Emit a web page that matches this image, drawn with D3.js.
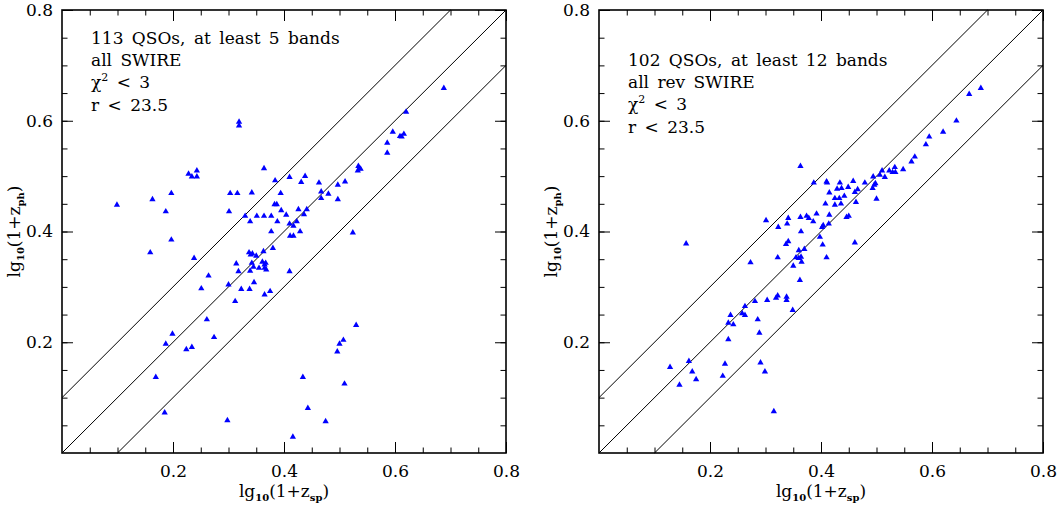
<!DOCTYPE html>
<html>
<head>
<meta charset="utf-8">
<script src="https://cdn.jsdelivr.net/npm/d3@7"></script>
<style>
  body { margin: 0; background: #fff; }
  text { font-family: "DejaVu Serif", serif; fill: #000; }
</style>
</head>
<body>
<svg id="chart" width="1058" height="508"></svg>
<script>
// left panel: 5 bands, all SWIRE
var leftZsp = [0.688,0.620,0.596,0.609,0.612,0.616,0.586,0.586,0.319,0.319,
  0.534,0.536,0.538,0.533,0.364,0.228,0.234,0.243,0.243,0.384,
  0.410,0.438,0.431,0.463,0.497,0.510,0.467,0.480,0.467,0.497,
  0.197,0.163,0.099,0.187,0.303,0.316,0.342,0.394,0.383,0.387,
  0.301,0.395,0.404,0.426,0.441,0.436,0.330,0.351,0.364,0.377,
  0.339,0.388,0.410,0.417,0.423,0.377,0.429,0.524,0.411,0.417,
  0.197,0.159,0.238,0.380,0.337,0.340,0.343,0.350,0.363,0.314,
  0.342,0.345,0.318,0.339,0.355,0.361,0.365,0.367,0.365,0.368,
  0.410,0.264,0.251,0.300,0.323,0.338,0.346,0.365,0.375,0.312,
  0.261,0.274,0.199,0.187,0.224,0.234,0.530,0.507,0.500,0.496,
  0.169,0.434,0.509,0.185,0.443,0.298,0.475,0.416];
var leftZph = [0.659,0.616,0.580,0.572,0.571,0.576,0.560,0.542,0.598,0.591,
  0.518,0.514,0.513,0.510,0.514,0.504,0.499,0.499,0.510,0.492,
  0.498,0.500,0.489,0.488,0.484,0.490,0.472,0.468,0.460,0.458,
  0.469,0.458,0.448,0.436,0.469,0.469,0.470,0.469,0.449,0.449,
  0.436,0.438,0.430,0.440,0.440,0.431,0.428,0.428,0.428,0.428,
  0.418,0.418,0.414,0.410,0.418,0.400,0.400,0.398,0.392,0.392,
  0.385,0.362,0.352,0.370,0.362,0.358,0.360,0.356,0.364,0.342,
  0.343,0.336,0.328,0.329,0.334,0.345,0.340,0.343,0.334,0.331,
  0.328,0.320,0.297,0.304,0.296,0.296,0.308,0.286,0.292,0.274,
  0.241,0.209,0.215,0.197,0.187,0.191,0.231,0.204,0.197,0.183,
  0.137,0.137,0.125,0.073,0.081,0.059,0.057,0.029];

// right panel: 12 bands, all rev SWIRE
var rightZsp = [0.688,0.667,0.644,0.620,0.595,0.589,0.569,0.563,0.548,0.533,
  0.529,0.534,0.523,0.510,0.506,0.515,0.494,0.498,0.496,0.493,
  0.500,0.479,0.458,0.466,0.461,0.463,0.449,0.434,0.437,0.429,
  0.410,0.411,0.387,0.363,0.415,0.442,0.425,0.433,0.408,0.425,
  0.436,0.392,0.415,0.446,0.450,0.374,0.378,0.363,0.386,0.341,
  0.339,0.301,0.323,0.364,0.404,0.402,0.414,0.398,0.341,0.337,
  0.403,0.461,0.157,0.360,0.370,0.322,0.355,0.360,0.364,0.365,
  0.410,0.273,0.350,0.362,0.319,0.322,0.338,0.338,0.303,0.281,
  0.263,0.349,0.237,0.258,0.263,0.286,0.233,0.242,0.289,0.233,
  0.128,0.162,0.168,0.145,0.175,0.227,0.223,0.291,0.299,0.315];
var rightZph = [0.659,0.648,0.600,0.580,0.571,0.557,0.535,0.526,0.512,0.516,
  0.507,0.507,0.510,0.510,0.502,0.498,0.499,0.487,0.484,0.478,
  0.459,0.488,0.491,0.476,0.471,0.453,0.480,0.488,0.478,0.477,
  0.490,0.488,0.488,0.518,0.470,0.464,0.460,0.460,0.450,0.448,
  0.450,0.432,0.430,0.426,0.428,0.428,0.424,0.426,0.418,0.424,
  0.414,0.420,0.408,0.400,0.411,0.408,0.414,0.390,0.382,0.377,
  0.376,0.380,0.378,0.366,0.368,0.353,0.353,0.352,0.354,0.345,
  0.353,0.344,0.338,0.312,0.280,0.284,0.282,0.276,0.276,0.274,
  0.265,0.258,0.249,0.252,0.249,0.241,0.235,0.232,0.217,0.205,
  0.155,0.166,0.147,0.123,0.133,0.161,0.139,0.163,0.147,0.075];

var tickLabels = [0.2, 0.4, 0.6, 0.8];
var minorTicks = d3.range(0.05, 0.8, 0.05);
var offsets = [0.1, 0, -0.1];

var leftNotes = ["113 QSOs, at least 5 bands", "all SWIRE", "chi", "r < 23.5"];
var rightNotes = ["102 QSOs, at least 12 bands", "all rev SWIRE", "chi", "r < 23.5"];

var svg = d3.select("#chart");

var panels = [
  { left: 62, right: 506, zsp: leftZsp, zph: leftZph, notes: leftNotes, noteX: 91, noteY: 44 },
  { left: 599, right: 1043, zsp: rightZsp, zph: rightZph, notes: rightNotes, noteX: 628, noteY: 66 }
];
var plotTop = 10, plotBottom = 453;

panels.forEach(function(p) {
  var x = d3.scaleLinear().domain([0, 0.8]).range([p.left, p.right]);
  var y = d3.scaleLinear().domain([0, 0.8]).range([plotBottom, plotTop]);
  var g = svg.append("g");

  // minor ticks, all four sides, inward
  var minor = [
    [d3.axisBottom(x), "translate(0," + plotBottom + ")"],
    [d3.axisTop(x), "translate(0," + plotTop + ")"],
    [d3.axisLeft(y), "translate(" + p.left + ",0)"],
    [d3.axisRight(y), "translate(" + p.right + ",0)"]
  ];
  minor.forEach(function(m) {
    var a = g.append("g").attr("transform", m[1])
      .call(m[0].tickValues(minorTicks).tickSize(-5.5).tickFormat(""));
    a.select(".domain").remove();
    a.selectAll("line").attr("stroke", "#000").attr("stroke-width", 1);
  });

  // major ticks with labels
  var xb = g.append("g").attr("transform", "translate(0," + plotBottom + ")")
    .call(d3.axisBottom(x).tickValues(tickLabels).tickSize(-11).tickPadding(12).tickFormat(d3.format(".1f")));
  var yl = g.append("g").attr("transform", "translate(" + p.left + ",0)")
    .call(d3.axisLeft(y).tickValues(tickLabels).tickSize(-11).tickPadding(9).tickFormat(d3.format(".1f")));
  var xt = g.append("g").attr("transform", "translate(0," + plotTop + ")")
    .call(d3.axisTop(x).tickValues(tickLabels).tickSize(-11).tickFormat(""));
  var yr = g.append("g").attr("transform", "translate(" + p.right + ",0)")
    .call(d3.axisRight(y).tickValues(tickLabels).tickSize(-11).tickFormat(""));
  [xb, yl, xt, yr].forEach(function(a) {
    a.select(".domain").remove();
    a.selectAll("line").attr("stroke", "#000").attr("stroke-width", 1);
    a.selectAll("text").attr("font-family", "DejaVu Serif").attr("font-size", 17).attr("fill", "#000");
  });

  // frame
  g.append("rect")
    .attr("x", p.left).attr("y", plotTop)
    .attr("width", p.right - p.left).attr("height", plotBottom - plotTop)
    .attr("fill", "none").attr("stroke", "#000").attr("stroke-width", 1.6);

  // diagonal lines
  offsets.forEach(function(o) {
    var x0 = Math.max(0, -o), x1 = Math.min(0.8, 0.8 - o);
    g.append("line")
      .attr("x1", x(x0)).attr("y1", y(x0 + o))
      .attr("x2", x(x1)).attr("y2", y(x1 + o))
      .attr("stroke", "#000").attr("stroke-width", 1);
  });

  // points
  var tri = d3.symbol().type(d3.symbolTriangle).size(17);
  g.append("g").selectAll("path")
    .data(p.zsp.map(function(d, i) { return [d, p.zph[i]]; }))
    .enter().append("path")
      .attr("d", tri)
      .attr("transform", function(d) { return "translate(" + x(d[0]) + "," + y(d[1]) + ")"; })
      .attr("fill", "#0000ff");

  // notes
  p.notes.forEach(function(n, i) {
    var t = g.append("text")
      .attr("x", p.noteX).attr("y", p.noteY + i * 22.2)
      .attr("font-size", 17).attr("word-spacing", 3).attr("xml:space", "preserve");
    if (n === "chi") {
      t.append("tspan").text("\u03c7");
      t.append("tspan").attr("font-size", 11).attr("dy", -7).text("2");
      t.append("tspan").attr("dy", 7).text(" < 3");
    } else {
      t.text(n);
    }
  });

  // x label
  var xl = g.append("text")
    .attr("x", (p.left + p.right) / 2).attr("y", 497)
    .attr("text-anchor", "middle").attr("font-size", 17);
  xl.append("tspan").text("lg");
  xl.append("tspan").attr("font-size", 10).attr("font-weight", "bold").attr("dy", 4).text("10");
  xl.append("tspan").attr("dy", -4).text("(1+z");
  xl.append("tspan").attr("font-size", 10).attr("font-weight", "bold").attr("dy", 4).text("sp");
  xl.append("tspan").attr("dy", -4).text(")");

  // y label
  var ylab = g.append("text")
    .attr("transform", "translate(" + (p.left - 42) + "," + ((plotTop + plotBottom) / 2) + ") rotate(-90)")
    .attr("text-anchor", "middle").attr("font-size", 17);
  ylab.append("tspan").text("lg");
  ylab.append("tspan").attr("font-size", 10).attr("font-weight", "bold").attr("dy", 4).text("10");
  ylab.append("tspan").attr("dy", -4).text("(1+z");
  ylab.append("tspan").attr("font-size", 10).attr("font-weight", "bold").attr("dy", 4).text("ph");
  ylab.append("tspan").attr("dy", -4).text(")");
});
</script>
</body>
</html>
